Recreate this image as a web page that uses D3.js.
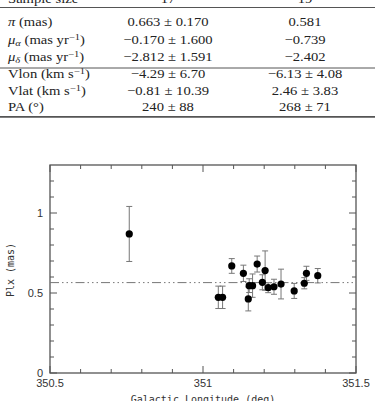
<!DOCTYPE html>
<html>
<head>
<meta charset="utf-8">
<script src="https://cdnjs.cloudflare.com/ajax/libs/d3/7.8.5/d3.min.js"></script>
<style>
  body { margin: 0; background: #fff; overflow: hidden; }
  svg { display: block; }
</style>
</head>
<body>
<div id="container"></div>
<script>
// table rows
var rowLabels = ["pi", "mua", "mud", "vlon", "vlat", "pa"];
var col17 = ["0.663 \u00b1 0.170", "\u22120.170 \u00b1 1.600", "\u22122.812 \u00b1 1.591",
             "\u22124.29 \u00b1 6.70", "\u22120.81 \u00b1 10.39", "240 \u00b1 88"];
var col19 = ["0.581", "\u22120.739", "\u22122.402",
             "\u22126.13 \u00b1 4.08", "2.46 \u00b1 3.83", "268 \u00b1 71"];
var sampleSize = ["17", "19"];

// scatter data: galactic longitude (deg), parallax (mas), error (mas)
var lon = [350.759, 351.050, 351.064, 351.094, 351.132, 351.148, 351.151, 351.162, 351.177,
           351.194, 351.203, 351.213, 351.232, 351.255, 351.298, 351.331, 351.338, 351.375];
var plx = [0.869, 0.473, 0.473, 0.669, 0.623, 0.463, 0.546, 0.546, 0.681,
           0.567, 0.640, 0.533, 0.539, 0.556, 0.513, 0.561, 0.623, 0.608];
var err = [0.172, 0.070, 0.070, 0.046, 0.051, 0.075, 0.043, 0.073, 0.050,
           0.047, 0.123, 0.031, 0.047, 0.093, 0.047, 0.035, 0.044, 0.045];
var meanPlx = 0.565;

var xMajor = [350.5, 351, 351.5];
var yMajor = [0, 0.5, 1];

var W = 375, H = 401;
var svg = d3.select("#container").append("svg").attr("width", W).attr("height", H);

// ---------- table ----------
var serif = "'Liberation Serif', 'Times New Roman', serif";
var tbl = svg.append("g").attr("font-family", serif).attr("font-size", 12.5).attr("fill", "#222");
var rowY = [26, 43.5, 60.5, 78, 94.5, 110.5];
var c1 = 8, c2 = 168, c3 = 305;
var sx = 1.17;

function cell(x0, y0, anchor) {
  return tbl.append("text").attr("transform", "translate(" + x0 + "," + y0 + ") scale(" + sx + ",1)")
    .attr("text-anchor", anchor || "start");
}

cell(c1, 3).text("Sample size");
cell(c2, 3, "middle").text(sampleSize[0]);
cell(c3, 3, "middle").text(sampleSize[1]);

function rule(y, w) {
  svg.append("line").attr("x1", 0).attr("x2", W).attr("y1", y).attr("y2", y)
    .attr("stroke", "#555").attr("stroke-width", w);
}
rule(7.5, 1.2);
rule(68, 1);
rule(116.8, 1.8);

function label(i) {
  var t = cell(c1, rowY[i]);
  var k = rowLabels[i];
  if (k === "pi") {
    t.append("tspan").attr("font-style", "italic").text("\u03c0");
    t.append("tspan").text(" (mas)");
  } else if (k === "mua" || k === "mud") {
    t.append("tspan").attr("font-style", "italic").text("\u03bc");
    t.append("tspan").attr("font-style", "italic").attr("font-size", 9).attr("dy", 2.5)
      .text(k === "mua" ? "\u03b1" : "\u03b4");
    t.append("tspan").attr("dy", -2.5).text(" (mas yr");
    t.append("tspan").attr("font-size", 9).attr("dy", -4).text("\u22121");
    t.append("tspan").attr("dy", 4).text(")");
  } else if (k === "vlon" || k === "vlat") {
    t.append("tspan").text(k === "vlon" ? "Vlon (km s" : "Vlat (km s");
    t.append("tspan").attr("font-size", 9).attr("dy", -4).text("\u22121");
    t.append("tspan").attr("dy", 4).text(")");
  } else {
    t.text("PA (\u00b0)");
  }
}
rowLabels.forEach(function (d, i) {
  label(i);
  cell(c2, rowY[i], "middle").text(col17[i]);
  cell(c3, rowY[i], "middle").text(col19[i]);
});

// ---------- chart ----------
var m = { left: 50, right: 19, top: 165, bottom: 28 };
var x = d3.scaleLinear().domain([350.5, 351.5]).range([m.left, W - m.right]);
var y = d3.scaleLinear().domain([0, 1.3]).range([H - m.bottom, m.top]);

var axCol = "#555";
var g = svg.append("g");

g.append("rect").attr("x", x(350.5)).attr("y", y(1.3))
  .attr("width", x(351.5) - x(350.5)).attr("height", y(0) - y(1.3))
  .attr("fill", "none").attr("stroke", axCol).attr("stroke-width", 1.3);

var xMinor = d3.range(350.6, 351.5, 0.1).filter(function (v) { return Math.abs(v - 351) > 0.01; });
var yMinor = d3.range(0.1, 1.3, 0.1).filter(function (v) { return Math.abs(v - 0.5) > 0.01 && Math.abs(v - 1) > 0.01; });

function ticks(vals, len) {
  vals.forEach(function (v) {
    g.append("line").attr("x1", x(v)).attr("x2", x(v)).attr("y1", y(0)).attr("y2", y(0) - len).attr("stroke", axCol);
    g.append("line").attr("x1", x(v)).attr("x2", x(v)).attr("y1", y(1.3)).attr("y2", y(1.3) + len).attr("stroke", axCol);
  });
}
function yticks(vals, len) {
  vals.forEach(function (v) {
    g.append("line").attr("y1", y(v)).attr("y2", y(v)).attr("x1", x(350.5)).attr("x2", x(350.5) + len).attr("stroke", axCol);
    g.append("line").attr("y1", y(v)).attr("y2", y(v)).attr("x1", x(351.5)).attr("x2", x(351.5) - len).attr("stroke", axCol);
  });
}
ticks(xMinor, 4);
ticks(xMajor, 7);
yticks(yMinor, 4);
yticks(yMajor, 7);

var sans = "'Liberation Sans', Arial, sans-serif";
g.selectAll(".xl").data(xMajor).enter().append("text")
  .attr("x", function (d) { return x(d); }).attr("y", 387)
  .attr("text-anchor", "middle").attr("font-family", sans).attr("font-size", 11).attr("fill", "#333")
  .text(function (d) { return d; });
g.selectAll(".yl").data(yMajor).enter().append("text")
  .attr("x", 43).attr("y", function (d) { return y(d) + 4; })
  .attr("text-anchor", "end").attr("font-family", sans).attr("font-size", 11).attr("fill", "#333")
  .text(function (d) { return d; });

var mono = "'DejaVu Sans Mono', 'Liberation Mono', monospace";
g.append("text").attr("transform", "translate(14,270) rotate(-90)")
  .attr("text-anchor", "middle").attr("font-family", mono).attr("font-size", 10).attr("fill", "#333")
  .text("Plx (mas)");
g.append("text").attr("x", 203).attr("y", 403)
  .attr("text-anchor", "middle").attr("font-family", mono).attr("font-size", 10).attr("fill", "#333")
  .text("Galactic Longitude (deg)");

// mean line
g.append("line").attr("x1", x(350.5)).attr("x2", x(351.5)).attr("y1", y(meanPlx)).attr("y2", y(meanPlx))
  .attr("stroke", "#777").attr("stroke-width", 1)
  .attr("stroke-dasharray", "9,3,1.5,3,1.5,3,1.5,3");

// error bars
var pts = lon.map(function (d, i) { return { lon: d, plx: plx[i], err: err[i] }; });
var eb = g.selectAll(".eb").data(pts).enter().append("g").attr("stroke", "#777").attr("stroke-width", 1);
eb.append("line")
  .attr("x1", function (d) { return x(d.lon); }).attr("x2", function (d) { return x(d.lon); })
  .attr("y1", function (d) { return y(d.plx - d.err); }).attr("y2", function (d) { return y(d.plx + d.err); });
[-1, 1].forEach(function (s) {
  eb.append("line")
    .attr("x1", function (d) { return x(d.lon) - 3; }).attr("x2", function (d) { return x(d.lon) + 3; })
    .attr("y1", function (d) { return y(d.plx + s * d.err); }).attr("y2", function (d) { return y(d.plx + s * d.err); });
});

g.selectAll(".pt").data(pts).enter().append("circle")
  .attr("cx", function (d) { return x(d.lon); }).attr("cy", function (d) { return y(d.plx); })
  .attr("r", 3.6).attr("fill", "#000");
</script>
</body>
</html>
